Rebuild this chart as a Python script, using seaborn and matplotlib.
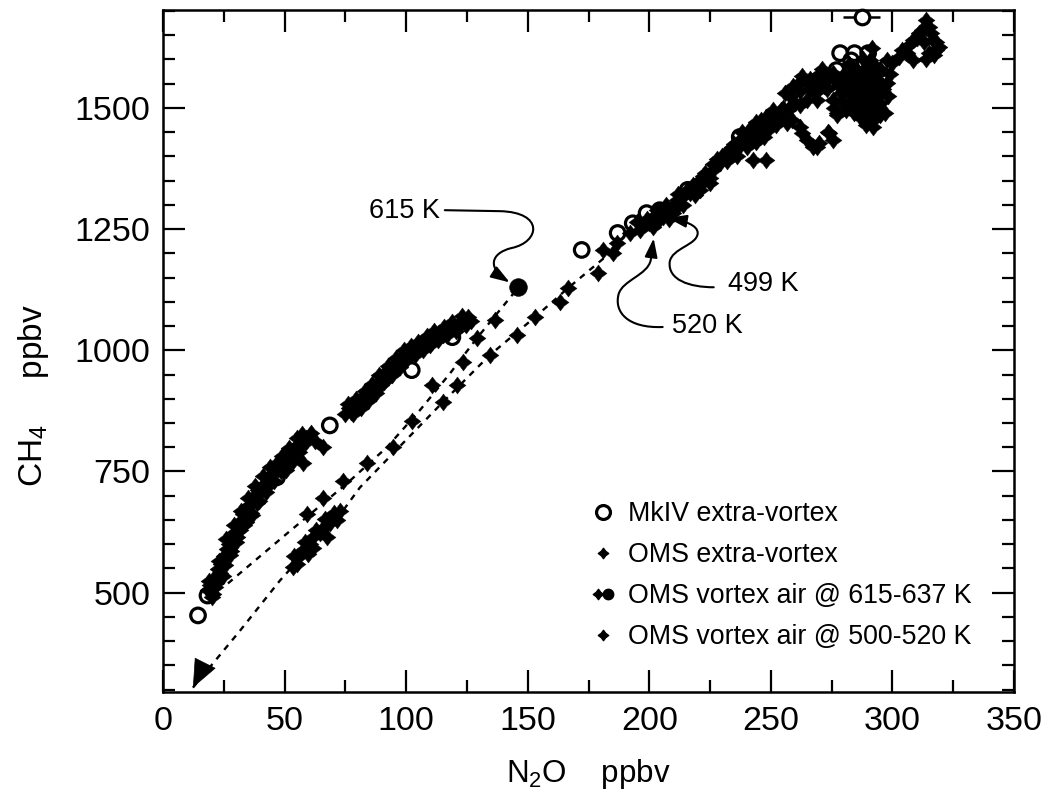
import numpy as np
import pandas as pd
import matplotlib
matplotlib.use("Agg")
import matplotlib.pyplot as plt
import seaborn as sns
from matplotlib.path import Path
from matplotlib.patches import FancyArrowPatch
from matplotlib.lines import Line2D
from matplotlib.legend_handler import HandlerTuple
from matplotlib.ticker import MultipleLocator

# ---------------- data ----------------
# MkIV extra-vortex (open circles)
mkiv_n2o = [14.4, 18.3, 46.9, 68.6, 102.3, 119.0, 172.2, 187.0, 193.2, 198.9, 204.3,
            215.8, 237.2, 277.0, 278.5, 284.4, 290.0, 283.0, 275.0]
mkiv_ch4 = [453, 494, 738, 845, 959, 1027, 1207, 1242, 1262, 1283, 1289,
            1331, 1440, 1578, 1613, 1613, 1613, 1598, 1560]
# MkIV profile top with horizontal error bar
mkiv_top_n2o = [287.3]
mkiv_top_ch4 = [1688]
mkiv_top_err = [7.5]

# OMS extra-vortex
oms_ev_n2o = [18.5, 19.5, 20.5, 21.0, 22.0, 22.5, 23.5, 24.0, 25.0, 25.5, 26.5, 27.0, 28.0, 28.5,
              29.5, 30.0, 31.0, 31.5, 32.5, 33.0, 34.0, 34.5, 35.5, 36.0, 37.0, 37.5, 38.5, 39.0,
              40.0, 41.0, 42.0, 43.0, 44.0, 45.0, 47.5, 48.5, 49.5, 50.5, 51.5, 52.5, 53.5, 54.5,
              55.5, 56.5, 57.5, 58.5, 60.0, 57.5, 65.8,
              19.0, 20.0, 21.5, 23.0, 24.5, 26.0, 27.5, 29.0, 30.5, 32.0, 33.5, 35.0, 36.5, 38.0,
              39.5, 41.0, 42.5, 44.0, 45.5, 47.0, 49.0, 50.5, 52.0, 53.5, 55.0, 56.0, 57.0, 59.0,
              61.0, 62.5,
              75.0, 76.5, 77.5, 78.5, 80.0, 81.0, 82.5, 83.5, 85.0, 86.0, 87.0, 88.5, 89.5, 90.5,
              92.0, 93.0, 94.5, 95.5, 97.0, 98.0, 99.5, 101.0, 103.0, 104.5, 106.0, 107.5, 109.0,
              110.5, 112.0, 113.5, 115.0, 116.5, 118.0, 119.5, 121.0, 122.5, 124.0, 125.5, 126.5,
              76.0, 78.0, 79.5, 81.5, 83.0, 84.5, 86.0, 87.5, 89.0, 91.0, 92.5, 94.0, 96.0, 97.5,
              99.0, 100.5, 102.0, 103.5, 105.0, 107.0, 108.5, 110.0, 111.5, 113.0, 115.5, 117.0,
              119.0, 120.5, 123.0, 124.5,
              180.8, 185.0, 186.6, 191.9, 196.1, 201.4, 205.5, 209.6, 211.3, 216.6, 220.7, 224.8,
              211.3, 215.4, 220.7, 226.1, 229.0, 231.8, 237.2, 242.5, 245.4, 248.2, 250.7, 253.6,
              256.5, 258.9, 261.8, 264.7, 267.2, 270.0, 274.1, 242.5, 248.2, 263.0, 268.8, 273.3,
              275.4, 277.4, 264.7, 268.8, 272.9, 275.4, 281.1, 283.6, 286.5, 289.4, 289.4, 291.8,
              291.8, 294.7, 293.5, 297.6, 286.5, 285.2, 290.6, 291.4, 297.6, 300.0, 302.9, 305.8,
              308.3, 308.3, 311.1, 314.0, 315.2, 316.5, 318.1, 315.2, 264.7, 268.8, 275.4, 277.0,
              256.0, 259.0, 262.0, 260.0, 255.0, 266.0, 270.0, 282.0, 285.0, 288.0, 280.0, 284.0,
              287.0, 289.0, 292.0, 295.0, 228.0, 233.0, 235.0, 239.0, 241.0, 244.0, 246.0, 240.0,
              236.0, 195.0, 199.0, 203.0, 207.0, 213.0, 218.0, 222.0, 208.0, 214.0,
              258.0, 261.0, 263.0, 266.0, 269.0, 271.0, 273.0, 276.0, 278.0, 280.0, 282.0, 284.0,
              286.0, 288.0, 290.0, 292.0, 294.0, 296.0, 298.0, 299.0, 285.0, 288.0, 291.0, 293.0,
              295.0, 297.0, 283.0, 279.0, 276.0, 281.0, 287.0, 290.0, 293.0,
              304.0, 307.0, 310.0, 312.0, 313.0, 316.0, 318.0, 317.0, 319.0, 314.0,
              226.0, 230.0, 232.0, 234.0, 237.0, 238.0, 243.0, 246.0, 249.0, 251.0, 252.0, 254.0,
              247.0, 244.0, 197.0, 200.0, 202.0, 204.0, 206.0, 210.0, 212.0, 217.0, 219.0, 221.0,
              223.0, 225.0,
              281.0, 283.5, 286.0, 288.5, 291.0, 293.5, 296.0, 282.5, 285.0, 287.5, 290.0, 292.5,
              295.0, 289.0, 292.0, 279.0, 272.0, 268.0, 262.0, 257.0, 252.0, 249.0, 245.5, 240.5,
              234.0, 230.0]
oms_ev_ch4 = [505, 515, 498, 530, 520, 548, 540, 560, 575, 556, 590, 600, 585, 612,
              625, 605, 640, 630, 650, 662, 645, 670, 680, 665, 690, 700, 685, 712,
              705, 722, 715, 735, 728, 745, 755, 750, 770, 765, 782, 775, 795, 788,
              805, 800, 815, 808, 822, 768, 800,
              525, 490, 512, 565, 535, 610, 578, 640, 615, 668, 640, 695, 660, 720,
              690, 740, 708, 760, 730, 768, 782, 752, 798, 772, 818, 790, 828, 820,
              830, 812,
              868, 880, 872, 888, 885, 898, 893, 905, 915, 908, 925, 935, 928, 945,
              952, 962, 958, 972, 980, 975, 990, 995, 998, 1005, 1010, 1015, 1022,
              1018, 1030, 1035, 1032, 1040, 1045, 1050, 1048, 1058, 1062, 1068, 1060,
              890, 868, 900, 880, 915, 895, 930, 912, 948, 935, 968, 948, 985, 965,
              1000, 982, 1008, 990, 1018, 1000, 1030, 1010, 1040, 1022, 1048, 1032,
              1058, 1040, 1070, 1052,
              1207, 1200, 1221, 1242, 1248, 1254, 1275, 1283, 1295, 1324, 1331, 1345,
              1310, 1331, 1351, 1372, 1386, 1407, 1434, 1448, 1461, 1481, 1496, 1481,
              1469, 1475, 1461, 1434, 1419, 1428, 1448, 1393, 1393, 1448, 1419, 1450,
              1434, 1486, 1552, 1543, 1558, 1572, 1552, 1572, 1558, 1543, 1585, 1531,
              1517, 1496, 1558, 1552, 1517, 1502, 1599, 1624, 1599, 1593, 1605, 1614,
              1599, 1640, 1655, 1682, 1667, 1640, 1620, 1614, 1517, 1517, 1517, 1490,
              1530, 1545, 1535, 1510, 1500, 1560, 1570, 1530, 1540, 1525, 1510, 1490,
              1480, 1470, 1475, 1485, 1395, 1415, 1425, 1440, 1455, 1470, 1452, 1420,
              1400, 1265, 1270, 1290, 1300, 1315, 1340, 1360, 1270, 1300,
              1525, 1550, 1565, 1540, 1555, 1580, 1540, 1560, 1545, 1570, 1590, 1555,
              1575, 1600, 1560, 1590, 1570, 1540, 1525, 1570, 1520, 1505, 1500, 1520,
              1510, 1490, 1510, 1530, 1500, 1495, 1490, 1485, 1480,
              1620, 1630, 1645, 1660, 1635, 1655, 1635, 1610, 1625, 1600,
              1385, 1400, 1390, 1420, 1420, 1450, 1460, 1475, 1470, 1485, 1465, 1495,
              1440, 1430, 1258, 1262, 1278, 1268, 1290, 1300, 1322, 1335, 1320, 1340,
              1365, 1355,
              1545, 1530, 1545, 1530, 1545, 1530, 1545, 1565, 1580, 1565, 1580, 1565,
              1580, 1465, 1460, 1555, 1545, 1530, 1505, 1495, 1470, 1455, 1440, 1435,
              1410, 1395]

# OMS vortex air @ 615-637 K
oms_615_n2o = [59.2, 65.8, 74.0, 83.8, 94.5, 102.3, 110.6, 123.3, 129.1, 136.5]
oms_615_ch4 = [663, 696, 731, 767, 800, 855, 928, 975, 1025, 1062]
# the 615 K point itself
pt615_n2o = [146.0]
pt615_ch4 = [1130]

# OMS vortex air @ 500-520 K
oms_500_n2o = [53.4, 55.1, 57.5, 60.4, 61.7, 64.5, 65.8, 68.6, 69.9, 72.7, 71.5, 61.7, 55.1, 67.4,
               58.5, 63.0, 66.5, 70.5, 54.0, 59.5,
               115.1, 120.8, 134.4, 145.5, 152.9, 163.2, 166.5, 178.8]
oms_500_ch4 = [552, 572, 587, 601, 614, 622, 634, 643, 655, 669, 649, 593, 560, 614,
               605, 630, 652, 665, 575, 580,
               893, 928, 990, 1031, 1068, 1099, 1128, 1159]

# dashed descent lines
lineA_n2o = [26.7, 51.0, 75.6, 92.1, 105.6, 118.0, 129.1, 145.9]
lineA_ch4 = [519, 622, 725, 800, 876, 952, 1025, 1128]
lineB_n2o = [12.3, 31.6, 48.1, 74.0, 81.0, 115.1, 134.4, 152.9, 166.5, 183.7]
lineB_ch4 = [304, 421, 525, 669, 717, 893, 990, 1068, 1128, 1200]

legend_labels = ["MkIV extra-vortex", "OMS extra-vortex",
                 "OMS vortex air @ 615-637 K", "OMS vortex air @ 500-520 K"]

# ---------------- style ----------------
sns.set_style("ticks")
plt.rcParams['font.family'] = ['Liberation Sans', 'DejaVu Sans']
plt.rcParams['mathtext.fontset'] = 'custom'
plt.rcParams['mathtext.rm'] = 'Liberation Sans'
plt.rcParams['mathtext.it'] = 'Liberation Sans:italic'
plt.rcParams['mathtext.bf'] = 'Liberation Sans:bold'
for k in ['text.color', 'axes.labelcolor', 'xtick.color', 'ytick.color', 'axes.edgecolor']:
    plt.rcParams[k] = 'black'

fig = plt.figure(figsize=(10.5, 7.95), dpi=100)
ax = fig.add_axes([163/1050, 1-692/795, (1014-163)/1050, (692-10)/795])

star = Path.unit_regular_star(4, innerCircle=0.6)
ms_oms = 150

# dashed lines
ax.plot(lineA_n2o, lineA_ch4, color='black', lw=1.7, dashes=(2.6, 2.6), zorder=2)
ax.plot(lineB_n2o, lineB_ch4, color='black', lw=1.7, dashes=(2.6, 2.6), zorder=2)
ax.annotate('', xy=(lineB_n2o[0], lineB_ch4[0]), xytext=(lineB_n2o[0] + 4.5, lineB_ch4[0] + 45),
            arrowprops=dict(arrowstyle='-|>,head_length=0.95,head_width=0.4', color='black',
                            lw=0.5, shrinkA=0, shrinkB=0, mutation_scale=20), zorder=4,
            annotation_clip=False)

sns.scatterplot(x=oms_ev_n2o, y=oms_ev_ch4, marker=star, s=ms_oms, color='black',
                edgecolor='black', linewidth=0.3, ax=ax, zorder=3, legend=False)
sns.scatterplot(x=oms_615_n2o, y=oms_615_ch4, marker=star, s=ms_oms, color='black',
                edgecolor='black', linewidth=0.3, ax=ax, zorder=3, legend=False)
sns.scatterplot(x=oms_500_n2o, y=oms_500_ch4, marker=star, s=ms_oms, color='black',
                edgecolor='black', linewidth=0.3, ax=ax, zorder=3, legend=False)
sns.scatterplot(x=pt615_n2o, y=pt615_ch4, marker='o', s=160, color='black',
                edgecolor='black', linewidth=0.5, ax=ax, zorder=4, legend=False)

sns.scatterplot(x=mkiv_n2o, y=mkiv_ch4, marker='o', s=110, color='white',
                edgecolor='black', linewidth=2.3, ax=ax, zorder=5, legend=False)
ax.collections[-1].set_facecolor('none')
ax.errorbar(mkiv_top_n2o, mkiv_top_ch4, xerr=mkiv_top_err, fmt='none', ecolor='black',
            elinewidth=1.8, capsize=0, zorder=5, clip_on=False)
sns.scatterplot(x=mkiv_top_n2o, y=mkiv_top_ch4, marker='o', s=110, color='white',
                edgecolor='black', linewidth=2.3, ax=ax, zorder=6, legend=False, clip_on=False)

# curvy annotation arrows
def curvy(verts, codes):
    p = FancyArrowPatch(path=Path(verts, codes),
                        arrowstyle='-|>,head_length=0.95,head_width=0.32',
                        mutation_scale=12, color='black', lw=1.5, zorder=6)
    ax.add_patch(p)

M, C, L = Path.MOVETO, Path.CURVE4, Path.LINETO
curvy([(115.9, 1289), (138.5, 1287), (157.0, 1285), (155.0, 1223), (143.4, 1211),
       (134.4, 1200), (133.6, 1169), (142.6, 1140)],
      [M, L, C, C, C, C, C, C])
curvy([(226.5, 1130), (216.6, 1130), (207.6, 1145), (208.4, 1182), (209.2, 1211),
       (219.9, 1217), (219.9, 1242), (219.9, 1258), (214.5, 1267), (207.6, 1273)],
      [M, C, C, C, C, C, C, C, C, C])
curvy([(205.5, 1048), (191.1, 1045), (185.4, 1079), (187.4, 1116), (189.1, 1145),
       (199.3, 1155), (200.6, 1186), (201.8, 1231)],
      [M, C, C, C, C, C, C, L])

ax.text(113.9, 1287, "615 K", ha='right', va='center', fontsize=19.5)
ax.text(232.2, 1136, "499 K", ha='left', va='center', fontsize=19.5)
ax.text(209.2, 1050, "520 K", ha='left', va='center', fontsize=19.5)

# axes
ax.set_xlim(0, 350)
ax.set_ylim(295, 1702)
ax.xaxis.set_major_locator(MultipleLocator(50))
ax.xaxis.set_minor_locator(MultipleLocator(25))
ax.yaxis.set_major_locator(MultipleLocator(250))
ax.yaxis.set_minor_locator(MultipleLocator(50))
ax.tick_params(which='both', direction='in', top=True, right=True, width=1.6)
ax.tick_params(which='major', length=16, labelsize=24.5)
ax.tick_params(which='minor', length=8.5)
ax.tick_params(axis='x', which='major', pad=10)
ax.tick_params(axis='y', which='major', pad=9)
for s in ax.spines.values():
    s.set_linewidth(1.8)
    s.set_visible(True)

ax.set_xlabel("N$_2$O    ppbv", fontsize=22.5)
ax.set_ylabel("CH$_4$     ppbv", fontsize=24)
ax.xaxis.set_label_coords(0.5, -0.095)
ax.yaxis.set_label_coords(-0.132, 0.4355)

# legend
h_mk = Line2D([], [], ls='none', marker='o', ms=10, mfc='none', mec='black', mew=2.3)
h_ev = Line2D([], [], ls='none', marker=star, ms=7.5, color='black')
h_615a = Line2D([], [], ls='none', marker=star, ms=7.5, color='black')
h_615b = Line2D([], [], ls='none', marker='o', ms=7.5, color='black')
h_500 = Line2D([], [], ls='none', marker=star, ms=7.5, color='black')
ax.legend([h_mk, h_ev, (h_615a, h_615b), h_500], legend_labels,
          handler_map={tuple: HandlerTuple(ndivide=None, pad=-0.2)},
          loc='upper left', bbox_to_anchor=(0.5013, 0.2796), frameon=False,
          fontsize=19.3, handlelength=1.0, handletextpad=0.43, labelspacing=0.56,
          borderaxespad=0, borderpad=0)

fig.savefig("out.png", dpi=100, facecolor='white')
